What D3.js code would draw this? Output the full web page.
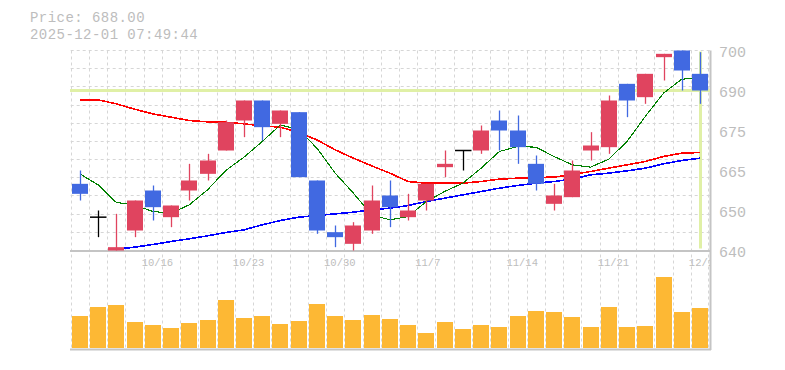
<!DOCTYPE html>
<html><head><meta charset="utf-8">
<script src="https://cdn.jsdelivr.net/npm/d3@7"></script>
<style>body{margin:0;background:#fff;} svg{display:block;}</style>
</head><body><svg id="c" width="785" height="370"></svg>
<script>
const dates=["10/9","10/10","10/14","10/15","10/16","10/17","10/20","10/21","10/22","10/23","10/24","10/27","10/28","10/29","10/30","10/31","11/4","11/5","11/6","11/7","11/10","11/11","11/12","11/13","11/14","11/17","11/18","11/19","11/20","11/21","11/25","11/26","11/27","11/28","12/1"];
const open =[660,650,640,646,658,650,658,663,670,679,685,678,681.5,661,645.5,642,646,656.5,650,655,665,670,670,679,676,666,654,656,670,671,690,686,698,700,693];
const high =[664,652,651,655,659.5,653.5,666,669,679,685,685,682,681.5,661,647.5,648.5,659.5,661,657,660,670,670,677.5,682,680.5,668.5,660,667,675.5,686.5,690,693,699,700,699.5];
const low  =[655,644,640,644,649,647,655,661,670,674,673,674,662,645,641,640,645,647,649,652,662,664,669,670,666,658,652,656,667,669,680,684,691,688,684];
const close=[657,650,641,655,653,653.5,661,667,678.5,685,677,682,662,646,644,647.5,655,653,652,660,666,670,676,676,671,660,656.5,664,671.5,685,685,693,699,694,688];
const maShort=[663.0,659.7,654.4,653.7,651.7,651.2,653.7,658.2,664.0,668.0,672.7,677.7,676.2,670.7,663.2,657.2,650.7,649.2,650.2,654.7,657.7,660.2,664.7,669.7,671.2,671.0,668.2,665.7,665.0,667.4,672.7,680.2,687.2,691.4,691.7];
const maMid=[685.2,685.2,684.0,682.4,681.0,680.0,679.0,678.6,678.5,678.0,677.4,677.0,675.4,673.2,670.2,667.7,665.4,663.2,660.7,660.2,660.2,660.2,660.7,661.4,661.7,661.9,662.0,662.8,663.7,664.7,665.7,666.7,668.2,669.2,669.4];
const maLong=[null,null,640.4,641.0,641.8,642.7,643.5,644.4,645.4,646.2,647.7,649.0,650.0,650.5,651.0,651.5,652.2,652.7,653.5,654.7,655.7,656.7,657.7,658.7,659.5,660.2,660.7,661.4,662.7,663.2,663.9,664.7,666.0,667.0,667.7];
const volume=[32,41,43,26,23,20,25,28,48,30,32,24,27,44,32,28,33,29,23,15,26,19,23,21,32,37,36,31,21,41,21,22,71,36,40];
const yTickValues=[700,688,676,664,652,640];
const yTickLabels=["700","690","675","665","650","640"];
const xTickLabels=["10/16","10/23","10/30","11/7","11/14","11/21","12/1"];
const priceText="Price: 688.00";
const timeText="2025-12-01 07:49:44";
const currentPrice=688;

const svg=d3.select("#c");
const L=70.7,R=709.1,T=50.5,B=250.5,VB=348,VT=270;
const x=d3.scaleBand().domain(dates).range([L,R]).padding(0);
const bw=x.bandwidth();
const cx=d=>x(d)+bw/2;
const y=d3.scaleLinear().domain([640,700]).range([B,T]);
const yv=d3.scaleLinear().domain([0,78]).range([VB,VT]);
const mono="'Liberation Mono','DejaVu Sans Mono',monospace";
const gridC="#d6d6d6", axisC="#c4c4c4", textC="#bdbdbd";
const upC="#e0445f", downC="#4169e1", volC="#fdb834", limeC="#e0f0a6";

// horizontal grid (price panel)
const hg=d3.range(12).map(i=>640+i*60/11);
svg.append("g").selectAll("line").data(hg).join("line")
  .attr("x1",L).attr("x2",710).attr("y1",d=>Math.floor(y(d))+0.5).attr("y2",d=>Math.floor(y(d))+0.5)
  .attr("stroke",gridC).attr("stroke-dasharray","3,3");
// vertical grid
const vb=dates.map(d=>x(d));
svg.append("g").selectAll("line").data(vb).join("line")
  .attr("x1",d=>Math.round(d)+0.5).attr("x2",d=>Math.round(d)+0.5).attr("y1",T).attr("y2",349)
  .attr("stroke",gridC).attr("stroke-dasharray","3,3");
svg.append("line").attr("x1",Math.round(R)-0.5).attr("x2",Math.round(R)-0.5).attr("y1",T).attr("y2",349)
  .attr("stroke",gridC).attr("stroke-dasharray","3,3");

// borders
svg.append("line").attr("x1",70).attr("x2",711).attr("y1",B+0.5).attr("y2",B+0.5).attr("stroke",axisC).attr("stroke-width",2);
svg.append("line").attr("x1",70).attr("x2",711).attr("y1",349.5).attr("y2",349.5).attr("stroke",axisC).attr("stroke-width",2);
svg.append("line").attr("x1",710.5).attr("x2",710.5).attr("y1",T).attr("y2",350).attr("stroke",axisC).attr("stroke-width",2);

// current price lime lines
const last=dates[dates.length-1];
svg.append("line").attr("x1",70).attr("x2",710).attr("y1",y(currentPrice)).attr("y2",y(currentPrice))
  .attr("stroke",limeC).attr("stroke-width",3);
svg.append("line").attr("x1",Math.round(cx(last))+0.5).attr("x2",Math.round(cx(last))+0.5).attr("y1",T+1).attr("y2",B-2)
  .attr("stroke",limeC).attr("stroke-width",3);

// moving averages
function ma(arr,color,w){
  const line=d3.line().defined(d=>d[1]!=null).x(d=>cx(d[0])).y(d=>y(d[1]));
  svg.append("path").datum(dates.map((d,i)=>[d,arr[i]])).attr("d",line)
    .attr("fill","none").attr("stroke",color).attr("stroke-width",w).attr("shape-rendering","crispEdges");
}
ma(maLong,"#0000ff",1.6);
ma(maMid,"#ff0000",1.6);
ma(maShort,"#008000",1.1);

// candles
const cg=svg.append("g");
dates.forEach((d,i)=>{
  const o=open[i],c=close[i],h=high[i],l=low[i];
  const col=c>o?upC:(c<o?downC:"#000");
  const xc=Math.round(cx(d))+0.5;
  cg.append("line").attr("x1",xc).attr("x2",xc).attr("y1",y(h)).attr("y2",y(l)).attr("stroke",col).attr("stroke-width",1.3);
  if(c===o){
    cg.append("line").attr("x1",xc-8.5).attr("x2",xc+8).attr("y1",y(o)).attr("y2",y(o)).attr("stroke","#000").attr("stroke-width",1.5);
  } else {
    const yt=y(Math.max(o,c)), yb=y(Math.min(o,c));
    cg.append("rect").attr("x",xc-8.5).attr("width",16).attr("y",yt).attr("height",Math.max(1,yb-yt)).attr("fill",col);
  }
});

// volume
svg.append("g").selectAll("rect").data(dates).join("rect")
  .attr("x",d=>Math.round(cx(d))-8).attr("width",16)
  .attr("y",(d,i)=>yv(volume[i])).attr("height",(d,i)=>VB-yv(volume[i]))
  .attr("fill",volC);

// y labels
svg.append("g").selectAll("text").data(yTickValues).join("text")
  .attr("x",719).attr("y",d=>y(d)+6.5).text((d,i)=>yTickLabels[i])
  .attr("font-family",mono).attr("font-size",15).attr("fill",textC);

// x labels (clipped at plot right)
svg.append("clipPath").attr("id","xc").append("rect").attr("x",0).attr("y",240).attr("width",710).attr("height",40);
svg.append("g").attr("clip-path","url(#xc)").selectAll("text").data(xTickLabels).join("text")
  .attr("x",d=>x(d)-2).attr("y",266).text(d=>d)
  .attr("font-family",mono).attr("font-size",10.5).attr("fill",textC);

// header
svg.append("text").attr("x",30).attr("y",22).text(priceText).attr("font-family",mono).attr("font-size",14).attr("letter-spacing",0.45).attr("fill",textC);
svg.append("text").attr("x",30).attr("y",38.5).text(timeText).attr("font-family",mono).attr("font-size",14).attr("letter-spacing",0.45).attr("fill",textC);
</script></body></html>
